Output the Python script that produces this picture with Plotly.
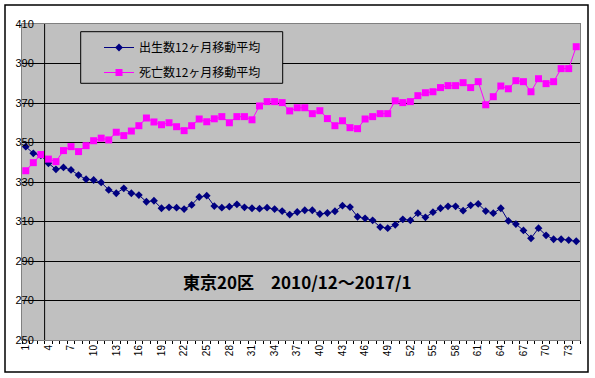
import plotly.graph_objects as go

months = list(range(1, 75))
births = [347.9, 344.5, 343.5, 339.5, 336.4, 337.4, 336.1, 333.5, 331.4, 331.0,
          329.8, 326.0, 324.3, 326.8, 324.3, 323.4, 320.0, 320.5, 316.7, 317.2,
          317.0, 316.3, 318.4, 322.4, 323.1, 317.8, 317.0, 317.5, 318.7, 317.2,
          316.7, 316.5, 317.0, 316.3, 315.3, 313.5, 314.8, 315.7, 315.7, 313.8,
          314.3, 315.2, 318.0, 317.3, 312.4, 311.6, 310.6, 307.2, 306.6, 308.3,
          311.1, 310.6, 314.2, 312.1, 314.7, 316.7, 317.7, 317.7, 315.5, 318.2,
          318.9, 315.3, 314.2, 316.7, 310.3, 308.7, 305.5, 301.5, 306.6, 303.0,
          301.0, 301.0, 300.6, 300.0]
deaths = [335.7, 339.8, 343.9, 341.6, 340.3, 345.9, 347.9, 345.4, 348.4, 350.9,
          352.2, 351.3, 355.2, 353.5, 355.8, 358.5, 362.4, 360.4, 359.0, 360.0,
          358.0, 356.0, 358.5, 361.9, 360.5, 362.0, 363.1, 360.0, 363.1, 363.1,
          361.5, 368.5, 370.7, 370.7, 370.2, 366.0, 367.6, 367.6, 364.6, 366.1,
          362.1, 358.5, 361.0, 357.5, 357.0, 361.9, 363.1, 364.6, 364.6, 371.1,
          370.2, 370.7, 373.7, 375.2, 375.7, 377.8, 378.8, 378.8, 380.3, 377.8,
          380.8, 369.1, 373.2, 378.6, 377.2, 381.3, 380.8, 375.7, 382.3, 379.8,
          380.8, 387.4, 387.4, 398.5]
series_names = ["出生数12ヶ月移動平均", "死亡数12ヶ月移動平均"]
x_tick_vals = list(range(1, 75, 3))
x_tick_text = [str(v) for v in x_tick_vals]
y_ticks = list(range(250, 411, 20))
title_text = "東京20区　2010/12～2017/1"

W, H = 595, 378
L, R, T, B = 22, 15, 24, 38
pw, ph = W - L - R, H - T - B

def px(xp):
    return (xp - L) / pw

def py(yp):
    return (H - B - yp) / ph

fig = go.Figure()
fig.add_trace(go.Scatter(
    x=months, y=births, name=series_names[0], mode="lines+markers",
    line=dict(color="#000080", width=1),
    marker=dict(symbol="diamond", size=6, color="#000080"),
    legendgroup="a"))
fig.add_trace(go.Scatter(
    x=months, y=deaths, name=series_names[1], mode="lines+markers",
    line=dict(color="#FF00FF", width=1),
    marker=dict(symbol="square", size=7, color="#FF00FF"),
    legendgroup="b"))

fig.update_layout(
    width=W, height=H,
    margin=dict(l=L, r=R, t=T, b=B, pad=0),
    paper_bgcolor="white", plot_bgcolor="#C0C0C0",
    font=dict(family="Liberation Sans, Arial", color="black"),
    showlegend=True,
    legend=dict(
        x=px(99), y=py(33), xanchor="left", yanchor="top",
        bgcolor="rgba(0,0,0,0)", borderwidth=0,
        font=dict(family="Noto Sans CJK JP", size=12, color="black"),
        traceorder="grouped", tracegroupgap=6,
    ),
    xaxis=dict(
        range=[0.5, 74.5], tickmode="array", tickvals=x_tick_vals, ticktext=x_tick_text,
        tickangle=-90, tickfont=dict(size=10), showgrid=False, zeroline=False,
        showline=True, linecolor="#808080", linewidth=1, mirror=True,
        ticks="", minor=dict(tickmode="linear", tick0=0.5, dtick=1, ticks="outside",
                             ticklen=3, tickcolor="black", showgrid=False),
    ),
    yaxis=dict(
        range=[250, 410], tickmode="array", tickvals=y_ticks,
        tickfont=dict(size=11), showgrid=True, gridcolor="black", gridwidth=1,
        zeroline=False, showline=True, linecolor="#808080", linewidth=1, mirror=True,
        ticks="", ticklabelstandoff=-15,
    ),
    shapes=[
        dict(type="line", xref="x", yref="paper", x0=3.5, x1=3.5, y0=0, y1=1,
             line=dict(color="black", width=1), layer="above"),
        dict(type="rect", xref="paper", yref="paper",
             x0=px(80.7), x1=px(282.7), y0=py(83.3), y1=py(31.7),
             fillcolor="#C0C0C0", line=dict(color="black", width=1), layer="above"),
        dict(type="rect", xref="paper", yref="paper",
             x0=px(5), x1=px(588), y0=py(372), y1=py(5),
             fillcolor="rgba(0,0,0,0)", line=dict(color="black", width=1.5), layer="above"),
    ],
    annotations=[
        dict(text="<b>" + title_text + "</b>", xref="paper", yref="paper",
             x=px(297.3), y=py(281.7), xanchor="center", yanchor="middle",
             showarrow=False, font=dict(family="Noto Sans CJK JP", size=17, color="black")),
    ],
)

fig.write_html("out.html", config={"displayModeBar": False},
               post_script="document.body.style.margin='0px';document.body.style.overflow='hidden';")
